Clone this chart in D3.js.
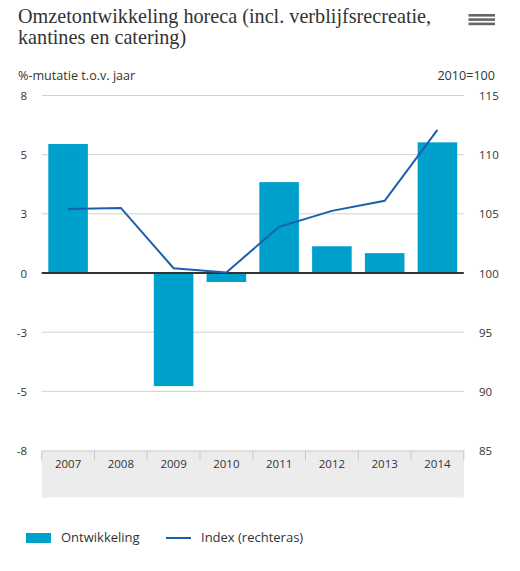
<!DOCTYPE html>
<html>
<head>
<meta charset="utf-8">
<script src="https://cdn.jsdelivr.net/npm/d3@7"></script>
<style>
  html, body { margin: 0; padding: 0; background: #fff; }
  svg { display: block; }
</style>
</head>
<body>
<svg id="chart" width="520" height="571"></svg>
<script>
const years = ["2007","2008","2009","2010","2011","2012","2013","2014"];
const ontwikkeling = [5.45, 0, -4.78, -0.38, 3.84, 1.13, 0.84, 5.52];
const indexValues = [105.4, 105.5, 100.4, 100.05, 103.9, 105.25, 106.1, 112.1];
const leftTicks = [7.5, 5, 2.5, 0, -2.5, -5, -7.5];
const leftTickLabels = ["8", "5", "3", "0", "-3", "-5", "-8"];
const rightTicks = [115, 110, 105, 100, 95, 90, 85];
const rightTickLabels = ["115", "110", "105", "100", "95", "90", "85"];

const svg = d3.select("#chart");
const sans = "'Open Sans', 'Noto Sans', sans-serif";
const serif = "'Liberation Serif', 'DejaVu Serif', serif";

const plot = { left: 41.7, right: 463.8, top: 95.5, bottom: 450.5 };

const x = d3.scaleBand().domain(years).range([plot.left, plot.right]).paddingInner(0.25).paddingOuter(0.125);
const xBand = d3.scaleBand().domain(years).range([plot.left, plot.right]);
const yL = d3.scaleLinear().domain([-7.5, 7.5]).range([plot.bottom, plot.top]);
const yR = d3.scaleLinear().domain([85, 115]).range([plot.bottom, plot.top]);

// Title
const title = svg.append("text").attr("font-family", serif).attr("font-size", 20.2).attr("fill", "#333");
title.append("tspan").attr("x", 18).attr("y", 23).text("Omzetontwikkeling horeca (incl. verblijfsrecreatie,");
title.append("tspan").attr("x", 18).attr("y", 44).text("kantines en catering)");

// Hamburger icon
[14, 18.3, 22.6].forEach(yy => {
  svg.append("rect").attr("x", 468.5).attr("y", yy).attr("width", 26.5).attr("height", 2.6).attr("fill", "#666");
});

// Axis titles
svg.append("text").attr("x", 18).attr("y", 80).attr("font-family", sans).attr("font-size", 12.6).attr("fill", "#333").text("%-mutatie t.o.v. jaar");
svg.append("text").attr("x", 495).attr("y", 80).attr("text-anchor", "end").attr("font-family", sans).attr("font-size", 12.6).attr("fill", "#333").text("2010=100");

// Gray x-axis band
svg.append("rect").attr("x", plot.left).attr("y", plot.bottom).attr("width", plot.right - plot.left).attr("height", 47).attr("fill", "#ececec");

// Gridlines
svg.append("g").selectAll("line").data(leftTicks.filter(d => d !== 0 && d !== -7.5)).join("line")
  .attr("x1", plot.left).attr("x2", plot.right)
  .attr("y1", d => yL(d)).attr("y2", d => yL(d))
  .attr("stroke", "#d0d0d0").attr("stroke-width", 1);

// Left axis labels
svg.append("g").selectAll("text").data(leftTicks).join("text")
  .attr("x", 27).attr("y", d => yL(d) + 4.5)
  .attr("text-anchor", "end")
  .attr("font-family", sans).attr("font-size", 11.5).attr("fill", "#333")
  .text((d, i) => leftTickLabels[i]);

// Right axis labels
svg.append("g").selectAll("text").data(rightTicks).join("text")
  .attr("x", 479).attr("y", d => yR(d) + 4.5)
  .attr("text-anchor", "start")
  .attr("font-family", sans).attr("font-size", 11.5).attr("fill", "#333")
  .text((d, i) => rightTickLabels[i]);

// X axis: ticks and labels
const xAxis = d3.axisBottom(xBand).tickSize(0).tickPadding(0);
const gx = svg.append("g").attr("transform", `translate(0,${plot.bottom})`).call(xAxis);
gx.select(".domain").attr("stroke", "#ccc").attr("stroke-width", 1);
gx.selectAll("text").attr("font-family", sans).attr("font-size", 11.5).attr("fill", "#333").attr("dy", "17.5px");
const boundaries = years.map(d => xBand(d)).concat([plot.right]);
gx.selectAll("line.sep").data(boundaries).join("line").attr("class", "sep")
  .attr("x1", d => d).attr("x2", d => d).attr("y1", 0).attr("y2", 10)
  .attr("stroke", "#c8c8c8").attr("stroke-width", 1);

// Bars
svg.append("g").selectAll("rect").data(years).join("rect")
  .attr("x", d => x(d))
  .attr("width", x.bandwidth())
  .attr("y", (d, i) => yL(Math.max(0, ontwikkeling[i])))
  .attr("height", (d, i) => Math.abs(yL(ontwikkeling[i]) - yL(0)))
  .attr("fill", "#00a0cd");

// Zero line
svg.append("line").attr("x1", plot.left).attr("x2", plot.right).attr("y1", yL(0)).attr("y2", yL(0))
  .attr("stroke", "#333").attr("stroke-width", 2);

// Index line
const line = d3.line().x((d, i) => xBand(years[i]) + xBand.bandwidth() / 2).y(d => yR(d));
svg.append("path").datum(indexValues).attr("d", line)
  .attr("fill", "none").attr("stroke", "#1a5fad").attr("stroke-width", 2);

// Legend
svg.append("rect").attr("x", 26).attr("y", 533).attr("width", 25).attr("height", 10).attr("fill", "#00a0cd");
svg.append("text").attr("x", 61).attr("y", 542).attr("font-family", sans).attr("font-size", 13).attr("fill", "#333").text("Ontwikkeling");
svg.append("line").attr("x1", 166).attr("x2", 191).attr("y1", 538).attr("y2", 538).attr("stroke", "#1a5fad").attr("stroke-width", 2);
svg.append("text").attr("x", 201).attr("y", 542).attr("font-family", sans).attr("font-size", 13).attr("fill", "#333").text("Index (rechteras)");
</script>
</body>
</html>
